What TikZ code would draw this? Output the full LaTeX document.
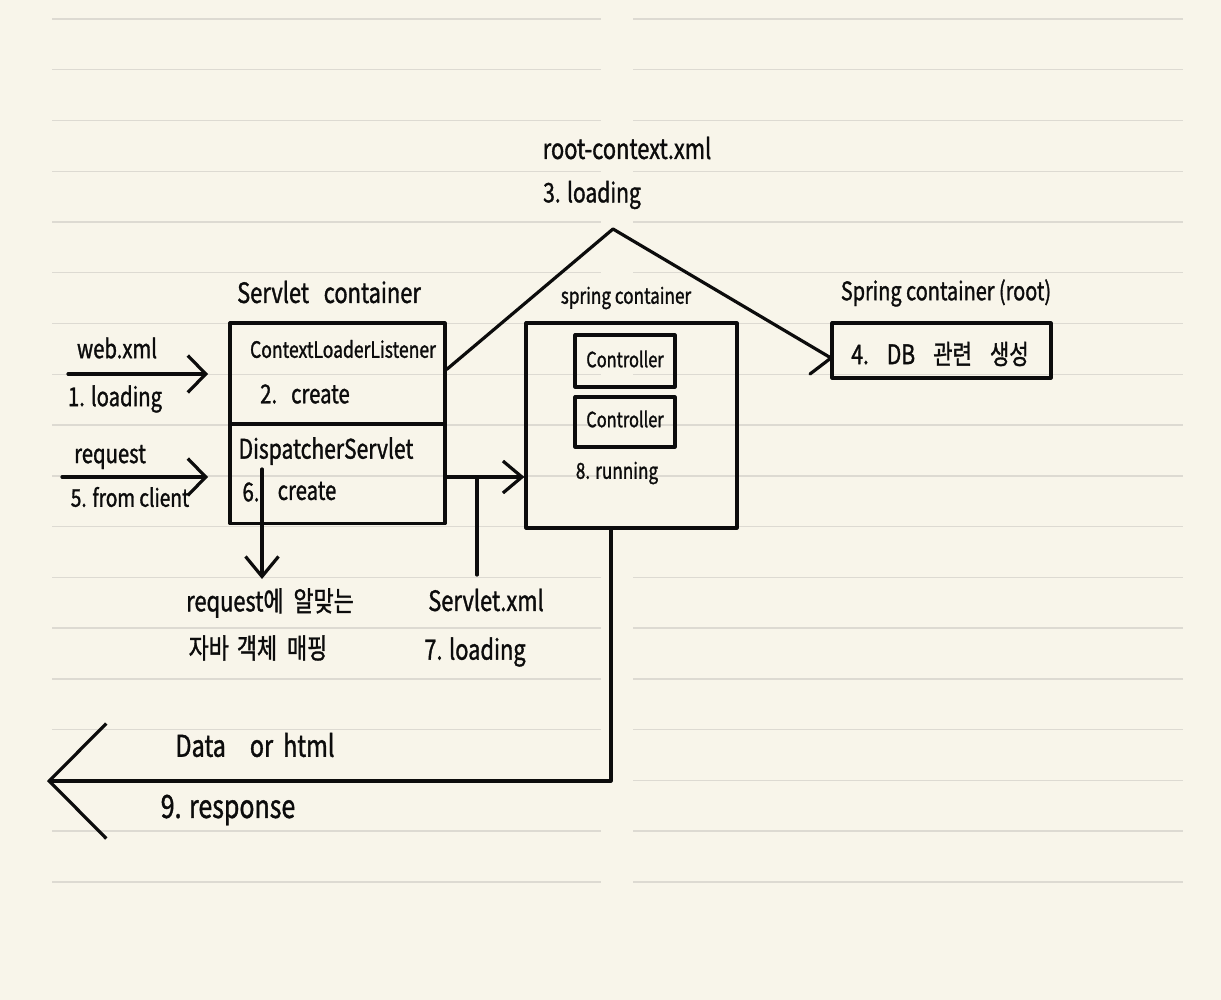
\documentclass[tikz,border=0pt]{standalone}
\usepackage{fontspec}
\setmainfont{Noto Sans CJK KR}[FakeStretch=0.78,FakeBold=1.2]
\usetikzlibrary{arrows.meta}
\definecolor{paper}{RGB}{248,245,234}
\definecolor{rule}{RGB}{221,218,210}
\definecolor{ink}{RGB}{12,12,12}
\tikzset{
  ink/.style={draw=ink, line width=3.2pt, line cap=round, line join=round},
  box/.style={ink, minimum width=#1, inner sep=0pt},
  lbl/.style={inner sep=0pt, text=ink, font=\fontsize{#1}{#1}\selectfont},
  lbl/.default=26,
}
\begin{document}
\begin{tikzpicture}[x=1pt,y=-1pt]
\useasboundingbox (0,0) rectangle (1221,1000);
\fill[paper] (0,0) rectangle (1221,1000);
\foreach \k in {0,...,17}{
  \draw[rule, line width=1.4pt] (52,{19+50.76*\k}) -- (601,{19+50.76*\k});
  \draw[rule, line width=1.4pt] (633,{19+50.76*\k}) -- (1183,{19+50.76*\k});
}
% boxes
\node[box=215pt, minimum height=101pt] (cll) at (337.5,373.5) {};
\node[box=215pt, minimum height=99pt] (dsp) at (337.5,474) {};
\node[box=211pt, minimum height=205pt] (spc) at (631.5,425.5) {};
\node[box=100pt, minimum height=52pt] (ct1) at (625,361) {};
\node[box=100pt, minimum height=50pt] (ct2) at (625,422) {};
\node[box=219pt, minimum height=55pt] (root) at (941.5,350.5) {};
% texts
\node[lbl=28] (tsc) at (329,292) {Servlet\ \ \ container};
\node[lbl=22.5] (tcl) at (343,349) {ContextLoaderListener};
\node[lbl=26] (tc2) at (305,394) {2.\hspace{14pt}create};
\node[lbl=27] (tds) at (326,451) {DispatcherServlet};
\node[lbl=26] (t6a) at (251,492) {6.};
\node[lbl=26] (t6b) at (307,491) {create};
\node[lbl=26] (tweb) at (117,348) {web.xml};
\node[lbl=26] (t1) at (115,399) {1. loading};
\node[lbl=26] (treq) at (110,457) {request};
\node[lbl=24.5] (t5) at (130,497) {5. from client};
\node[lbl=28] (trc) at (627,148) {root-context.xml};
\node[lbl=27] (t3) at (592,195) {3. loading};
\node[lbl=22] (tspc) at (626,298) {spring container};
\node[lbl=25.5] (troot) at (946,293) {Spring container (root)};
\node[lbl=27] (t4) at (940,354) {4.\hspace{18pt}DB\hspace{18pt}관련\hspace{18pt}생성};
\node[lbl=21] (tc1) at (625,359) {Controller};
\node[lbl=21] (tc2b) at (625,419) {Controller};
\node[lbl=22] (t8) at (617,473) {8. running};
\node[lbl=28] (tmap1) at (270,603) {request에\hspace{10pt}알맞는};
\node[lbl=28] (tmap2) at (258,648) {자바\hspace{8pt}객체\hspace{10pt}매핑};
\node[lbl=28] (tsx) at (486,600) {Servlet.xml};
\node[lbl=28] (t7) at (475,652) {7. loading};
\node[lbl=30] (tdata) at (255,745) {Data\hspace{24pt}or\hspace{10pt}html};
\node[lbl=32] (t9) at (228,810) {9. response};
% coordinates
\coordinate (webS) at (68,374);
\coordinate (webE) at (208,374);
\coordinate (reqS) at (62,477);
\coordinate (reqE) at (208,477);
\coordinate (peak) at (613,229);
\coordinate (rootTip) at (831,358);
\coordinate (rootArm) at (810,374);
\coordinate (dspR) at (dsp.east |- 0,477);
\coordinate (spcL) at (spc.west |- 0,477);
\coordinate (sxTop) at (477,477);
\coordinate (sxEnd) at (477,575);
\coordinate (mapS) at (262,469);
\coordinate (mapE) at (262,579);
\coordinate (spcB) at (611,528);
\coordinate (corner) at (611,781);
\coordinate (respE) at (47,781);
% connectors
\draw[ink, -{Straight Barb[length=18pt,width=37pt]}] (webS) -- (webE);
\draw[ink, -{Straight Barb[length=18pt,width=37pt]}] (reqS) -- (reqE);
\draw[ink] ([yshift=4pt]cll.east) -- (peak) -- (rootTip) -- (rootArm);
\draw[ink, -{Straight Barb[length=19pt,width=32pt]}] (dspR) -- (spcL);
\draw[ink] (sxTop) -- (sxEnd);
\draw[ink, -{Straight Barb[length=20pt,width=33pt]}] (mapS) -- (mapE);
\draw[ink, -{Straight Barb[length=57pt,width=115pt]}] (spcB) -- (corner) -- (respE);
\end{tikzpicture}
\end{document}
